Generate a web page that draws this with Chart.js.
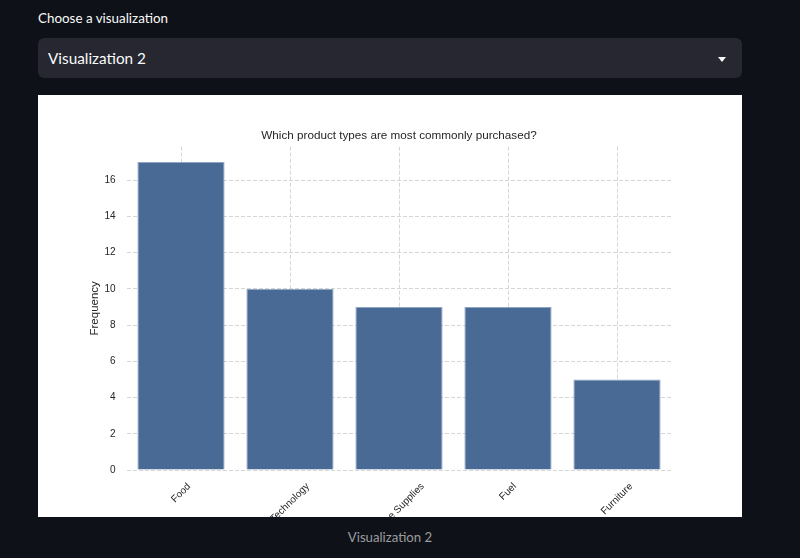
<!DOCTYPE html>
<html>
<head>
<meta charset="utf-8">
<script src="https://cdn.jsdelivr.net/npm/chart.js@4.4.1/dist/chart.umd.min.js"></script>
<style>
  html, body { margin: 0; padding: 0; background: #0e1117; width: 800px; height: 558px; overflow: hidden; }
  body { position: relative; font-family: "Lato", "Noto Sans", sans-serif; }
  #label { position: absolute; left: 38px; top: 9px; color: #fafafa; font-size: 13.4px; line-height: 18px; }
  #select { position: absolute; left: 38px; top: 38px; width: 704px; height: 40px; background: #262730; border-radius: 6px; }
  #selText { position: absolute; left: 10px; top: 0; line-height: 40px; color: #fafafa; font-size: 15.3px; }
  #caret { position: absolute; left: 718px; top: 57px; width: 0; height: 0; border-left: 4.5px solid transparent; border-right: 4.5px solid transparent; border-top: 5px solid #fafafa; }
  #chartBox { position: absolute; left: 38px; top: 95px; width: 704px; height: 422px; background: #ffffff; }
  #caption { position: absolute; left: 0; width: 780px; top: 527px; text-align: center; color: rgba(250,250,250,0.6); font-size: 13.2px; line-height: 20px; }
</style>
</head>
<body>
<div id="label">Choose a visualization</div>
<div id="select"><div id="selText">Visualization 2</div></div>
<div id="caret"></div>
<div id="chartBox"><canvas id="c"></canvas></div>
<div id="caption">Visualization 2</div>
<script>
const chartTitle = 'Which product types are most commonly purchased?';
const yAxisTitle = 'Frequency';
const categories = ['Food', 'Technology', 'Office Supplies', 'Fuel', 'Furniture'];
const frequencies = [17, 10, 9, 9, 5];
const yMin = 0;
const yMax = 17.85;
const yStep = 2;

const FONT = '"Liberation Sans", Arial, sans-serif';
const TEXT = '#262626';

const overlay = {
  id: 'overlay',
  afterDraw(chart) {
    const ctx = chart.ctx;
    const area = chart.chartArea;
    const xs = chart.scales.x;
    ctx.save();
    ctx.font = '11.7px ' + FONT;
    ctx.fillStyle = TEXT;
    ctx.textAlign = 'center';
    ctx.textBaseline = 'middle';
    ctx.fillText(chartTitle, (area.left + area.right) / 2, 41);
    ctx.font = '10px ' + FONT;
    const h = 8;
    categories.forEach((lab, i) => {
      const x = xs.getPixelForTick(i);
      const w = ctx.measureText(lab).width;
      const ext = (w + h) * Math.SQRT1_2;
      const cy = area.bottom + 12 + ext / 2;
      ctx.save();
      ctx.translate(x, cy);
      ctx.rotate(-Math.PI / 4);
      ctx.fillText(lab, 0, 0);
      ctx.restore();
    });
    ctx.restore();
  }
};

new Chart(document.getElementById('c'), {
  type: 'bar',
  data: {
    labels: categories,
    datasets: [{
      data: frequencies,
      backgroundColor: '#4a6a96',
      borderColor: '#8fa5c4',
      borderWidth: 1,
      categoryPercentage: 0.8,
      barPercentage: 1.0
    }]
  },
  options: {
    responsive: true,
    maintainAspectRatio: false,
    animation: false,
    devicePixelRatio: 1,
    layout: { padding: { left: 0, right: 70.5, top: 51.7, bottom: 0 } },
    plugins: { legend: { display: false }, tooltip: { enabled: false }, title: { display: false } },
    scales: {
      x: {
        type: 'category',
        offset: true,
        border: { display: false, dash: [4, 2] },
        grid: { display: true, offset: false, color: '#d6d6d6', lineWidth: 1, drawTicks: false },
        ticks: { display: false },
        afterFit(s) { s.height = 47; }
      },
      y: {
        min: yMin,
        max: yMax,
        border: { display: false, dash: [4, 2] },
        grid: { color: '#d6d6d6', lineWidth: 1, drawTicks: false },
        ticks: { stepSize: yStep, includeBounds: false, padding: 11, color: TEXT, font: { family: FONT, size: 10 } },
        title: { display: true, text: yAxisTitle, color: TEXT, font: { family: FONT, size: 11.5 }, padding: { top: 50, bottom: 0 } },
        afterFit(s) { s.width = 88.5; }
      }
    }
  },
  plugins: [overlay]
});
</script>
</body>
</html>
